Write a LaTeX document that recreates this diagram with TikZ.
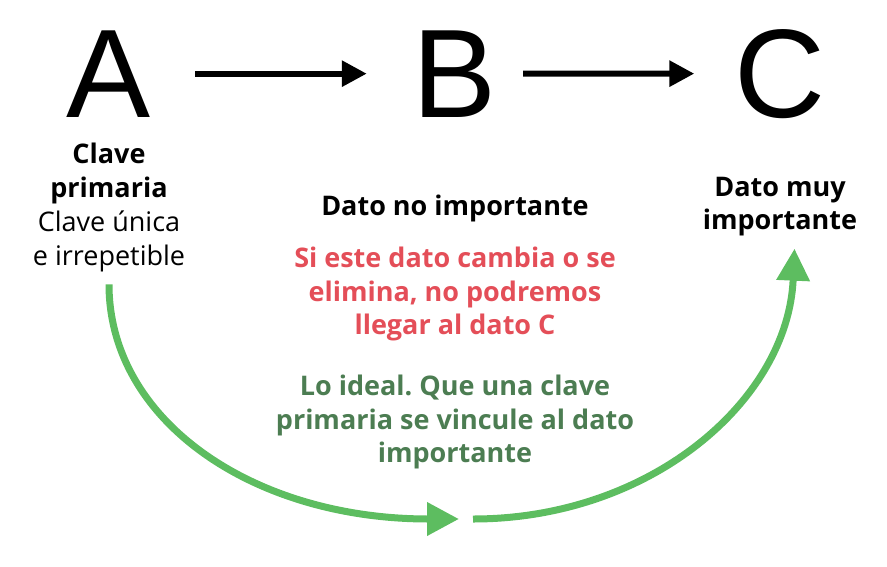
\documentclass[tikz,border=0pt]{standalone}
\usepackage{fontspec}
\setmainfont{Liberation Sans}
\newfontfamily\textofont{Open Sans}
\usetikzlibrary{arrows.meta}
\definecolor{verde}{RGB}{93,189,96}
\definecolor{verdeosc}{RGB}{76,125,82}
\definecolor{rojo}{RGB}{228,78,88}
\frenchspacing
\begin{document}
\begin{tikzpicture}[x=1pt, y=-1pt,
    letra/.style={font=\fontsize{126}{126}\selectfont, inner sep=0pt, anchor=base},
    texto/.style={font=\textofont\fontsize{27}{33.5}\selectfont\bfseries, align=center, inner sep=0pt, anchor=north},
    flechanegra/.style={line width=6pt, -{Triangle[length=25pt,width=25pt]}},
    flechaverde/.style={verde, line width=7pt, -{Triangle[length=32pt,width=32pt]}}]
        \useasboundingbox (0,0) rectangle (887,566);
        % letras
        \node[letra] (A) at (109,117) {A};
        \node[letra] (B) at (455,117) {B};
        \node[letra] (C) at (780,117) {C};
        \draw[flechanegra, shorten <=44pt, shorten >=46pt] (A) -- (B);
        \draw[flechanegra, shorten <=26pt, shorten >=40pt] (B) -- (C);
        % textos
        \node[texto, font=\textofont\fontsize{27}{34}\selectfont] (clave) at (109,143) {\textbf{Clave}\\\textbf{primaria}\\Clave única\\e irrepetible};
        \node[texto, anchor=base] (nodato) at (455,215) {Dato no importante};
        \node[texto, rojo] (aviso) at (455,247) {Si este dato cambia o se\\elimina, no podremos\\llegar al dato C};
        \node[texto, verdeosc] (ideal) at (455,375) {Lo ideal. Que una clave\\primaria se vincule al dato\\importante};
        \node[texto] (muy) at (780,177) {Dato muy\\importante};
        % flecha verde
        \coordinate (medio1) at (459,519);
        \coordinate (medio2) at (473,519);
        \draw[flechaverde, shorten <=12pt] (clave.south) .. controls (109,420) and (252,519) .. (medio1);
        \draw[flechaverde, shorten >=12pt] (medio2) .. controls (651,519) and (788,400) .. ([xshift=15pt]muy.south);
\end{tikzpicture}
\end{document}
